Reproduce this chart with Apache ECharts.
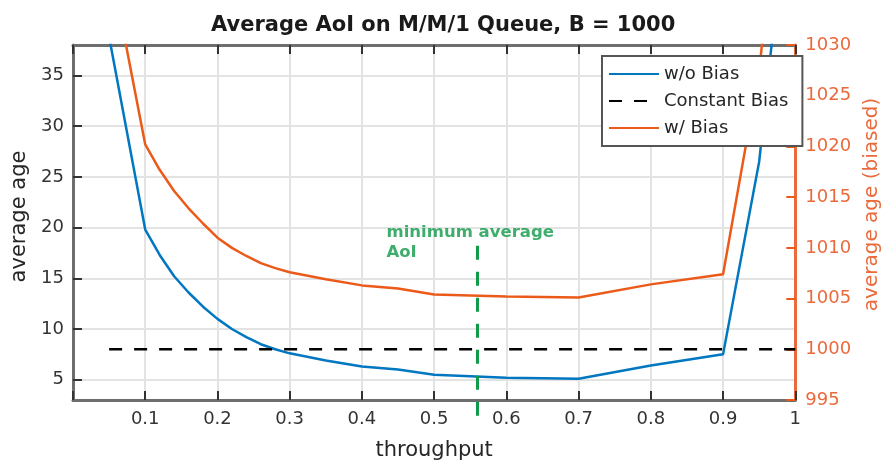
<!DOCTYPE html>
<html>
<head>
<meta charset="utf-8">
<script src="https://cdn.jsdelivr.net/npm/echarts@6/dist/echarts.min.js"></script>
<style>
  html, body { margin: 0; padding: 0; background: #fff; }
  #chart { width: 890px; height: 466px; }
</style>
</head>
<body>
<div id="chart"></div>
<script>
// Throughput grid of the M/M/1 runs
const throughput = [0.05, 0.1, 0.12, 0.14, 0.16, 0.18, 0.2, 0.22, 0.24, 0.26, 0.28, 0.3,
                    0.35, 0.4, 0.45, 0.5, 0.6, 0.7, 0.8, 0.9, 0.95, 1.0];
// Average AoI without bias (left axis)
const ageNoBias = [38.8, 19.8, 17.3, 15.2, 13.6, 12.2, 11.0, 10.0, 9.2, 8.5, 8.0, 7.6,
                   6.9, 6.3, 6.0, 5.5, 5.2, 5.1, 6.4, 7.5, 26.5, 60.0];
// Average AoI with bias B = 1000 (right axis)
const ageWithBias = [1038.6, 1020.2, 1017.7, 1015.6, 1013.9, 1012.4, 1011.0, 1010.0, 1009.2, 1008.5, 1008.0, 1007.6,
                     1006.9, 1006.3, 1006.0, 1005.4, 1005.2, 1005.1, 1006.4, 1007.4, 1027.5, 1060.0];
// Constant bias reference level (right axis) and its x span
const biasX = [0.05, 1.0];
const biasLevel = [1000, 1000];
// Throughput giving the minimum average AoI, and the marker's vertical span (left axis)
const minThroughput = 0.56;
const minMarkerSpan = [18.2, 0.8];
// Annotation anchor (left axis units)
const noteAnchor = [0.434, 18.5];
const noteText = 'minimum average\nAoI';
// Tick values
const leftTicks = [5, 10, 15, 20, 25, 30, 35];

const pairs = (xs, ys) => xs.map((x, i) => [x, ys[i]]);

const FONT = 'DejaVu Sans';
const AXIS_GRAY = '#6e6e6e';
const TICK_DARK = '#333333';
const GRID = '#e3e3e3';
const BLUE = '#0077c0';
const ORANGE = '#ec5a1a';
const ORANGE_AXIS = '#ea6a3c';
const GREEN = '#0f9a48';

const chart = echarts.init(document.getElementById('chart'));

chart.setOption({
  animation: false,
  backgroundColor: '#ffffff',
  title: {
    text: 'Average AoI on M/M/1 Queue, B = 1000',
    left: 206,
    top: 10,
    textStyle: { fontFamily: FONT, fontSize: 21, fontWeight: 'bold', color: '#1a1a1a' }
  },
  grid: { left: 73, right: 92, top: 45, bottom: 64, containLabel: false },
  legend: {
    data: ['w/o Bias', 'Constant Bias', 'w/ Bias'],
    orient: 'vertical',
    left: 602,
    top: 56,
    itemWidth: 50,
    itemHeight: 14,
    itemGap: 9,
    padding: [9, 14, 9, 6],
    backgroundColor: '#ffffff',
    borderColor: '#555555',
    borderWidth: 2,
    itemStyle: { opacity: 0 },
    textStyle: { fontFamily: FONT, fontSize: 18, color: '#262626' }
  },
  xAxis: [
    {
      type: 'value', min: 0, max: 1, interval: 0.1, position: 'bottom',
      name: 'throughput', nameLocation: 'middle', nameGap: 40,
      nameTextStyle: { fontFamily: FONT, fontSize: 21, color: '#262626' },
      axisLine: { show: true, onZero: false, lineStyle: { color: AXIS_GRAY, width: 3 } },
      axisTick: { show: true, inside: true, length: 9, lineStyle: { color: TICK_DARK, width: 2 } },
      axisLabel: {
        margin: 10, fontFamily: FONT, fontSize: 18, color: '#333333',
        formatter: v => (v === 0 ? '' : (Math.abs(v - 1) < 1e-9 ? '1' : v.toFixed(1)))
      },
      splitLine: { show: true, lineStyle: { color: GRID, width: 2 } }
    },
    {
      type: 'value', min: 0, max: 1, interval: 0.1, position: 'top',
      axisLine: { show: true, onZero: false, lineStyle: { color: AXIS_GRAY, width: 3 } },
      axisTick: { show: true, inside: true, length: 9, lineStyle: { color: TICK_DARK, width: 2 } },
      axisLabel: { show: false },
      splitLine: { show: false }
    }
  ],
  yAxis: [
    {
      type: 'value', min: 3, max: 38, position: 'left',
      name: 'average age', nameLocation: 'middle', nameGap: 36, nameRotate: 90,
      nameTextStyle: { fontFamily: FONT, fontSize: 21, color: '#262626', padding: [0, 0, 0, 12] },
      axisLine: { show: true, onZero: false, lineStyle: { color: AXIS_GRAY, width: 3 } },
      axisTick: { show: true, inside: true, length: 9, customValues: leftTicks, lineStyle: { color: TICK_DARK, width: 2 } },
      axisLabel: { margin: 9, customValues: leftTicks, fontFamily: FONT, fontSize: 18, color: '#333333' },
      splitLine: { show: true, lineStyle: { color: GRID, width: 2 } }
    },
    {
      type: 'value', min: 995, max: 1030, interval: 5, position: 'right',
      name: 'average age (biased)', nameLocation: 'middle', nameGap: 66, nameRotate: 90,
      nameTextStyle: { fontFamily: FONT, fontSize: 20, color: ORANGE_AXIS, padding: [0, 0, 0, 36] },
      axisLine: { show: true, onZero: false, lineStyle: { color: ORANGE_AXIS, width: 3 } },
      axisTick: { show: true, inside: true, length: 9, lineStyle: { color: ORANGE, width: 2 } },
      axisLabel: { margin: 10, fontFamily: FONT, fontSize: 18, color: ORANGE_AXIS, formatter: v => String(v) },
      splitLine: { show: false }
    }
  ],
  series: [
    {
      name: 'w/o Bias', type: 'line', xAxisIndex: 0, yAxisIndex: 0,
      data: pairs(throughput, ageNoBias),
      symbol: 'none', color: BLUE,
      lineStyle: { color: BLUE, width: 2.5 }
    },
    {
      name: 'Constant Bias', type: 'line', xAxisIndex: 0, yAxisIndex: 1,
      data: pairs(biasX, biasLevel),
      symbol: 'none', color: '#000000',
      lineStyle: { color: '#000000', width: 2.5, type: [13, 12] }
    },
    {
      name: 'w/ Bias', type: 'line', xAxisIndex: 0, yAxisIndex: 1,
      data: pairs(throughput, ageWithBias),
      symbol: 'none', color: ORANGE,
      lineStyle: { color: ORANGE, width: 2.5 }
    },
    {
      name: 'minimum marker', type: 'line', xAxisIndex: 0, yAxisIndex: 0,
      data: minMarkerSpan.map(v => [minThroughput, v]),
      symbol: 'none', clip: false, silent: true,
      lineStyle: { color: GREEN, width: 3, type: [14, 12] }
    },
    {
      name: 'note', type: 'scatter', xAxisIndex: 0, yAxisIndex: 0,
      data: [noteAnchor], symbolSize: 0, silent: true,
      label: {
        show: true, position: 'right', distance: 0, formatter: noteText,
        fontFamily: FONT, fontSize: 16.5, fontWeight: 'bold', lineHeight: 20,
        color: GREEN, align: 'left'
      }
    }
  ]
});
</script>
</body>
</html>
